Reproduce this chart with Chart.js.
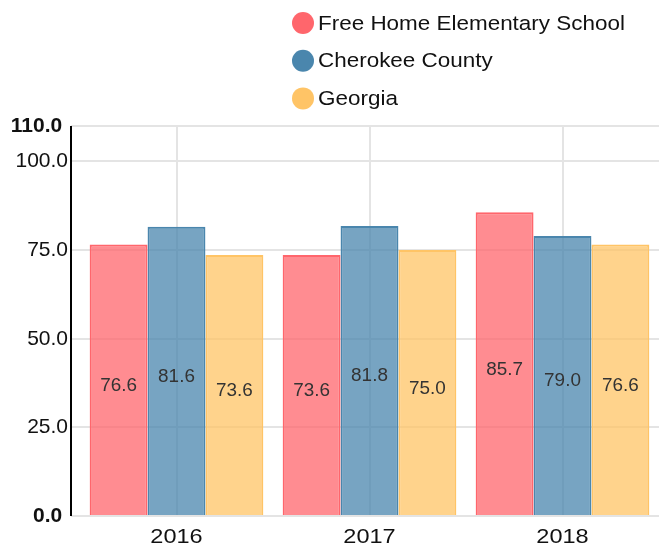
<!DOCTYPE html>
<html>
<head>
<meta charset="utf-8">
<script src="https://cdn.jsdelivr.net/npm/chart.js@4/dist/chart.umd.min.js"></script>
<style>
html,body{margin:0;padding:0;background:#fff;}
#wrap{width:659px;height:545px;position:relative;}
</style>
</head>
<body>
<div id="wrap"><canvas id="c" width="659" height="545"></canvas></div>
<script>
const categories = ["2016", "2017", "2018"];
const seriesNames = ["Free Home Elementary School", "Cherokee County", "Georgia"];
const schoolValues = [76.6, 73.6, 85.7];
const countyValues = [81.6, 81.8, 79.0];
const georgiaValues = [73.6, 75.0, 76.6];
const yTicks = [0, 25, 50, 75, 100, 110];

const baseColors = ["rgb(255,102,108)", "rgb(74,134,173)", "rgb(255,196,102)"];
const fillColors = ["rgba(255,102,108,0.75)", "rgba(74,134,173,0.75)", "rgba(255,196,102,0.75)"];
const FONT = "'Liberation Sans', Arial, Helvetica, sans-serif";
const GRID = "#e4e4e4";

const seriesValues = [schoolValues, countyValues, georgiaValues];

function wideText(ctx, text, x, y, sx) {
  ctx.save();
  ctx.translate(x, y);
  ctx.scale(sx, 1);
  ctx.fillText(text, 0, 0);
  ctx.restore();
}

const legendPlugin = {
  id: 'customLegend',
  afterDraw(chart) {
    const ctx = chart.ctx;
    ctx.save();
    const cx = 303, startY = 23, gap = 37.7, r = 11;
    chart.data.datasets.forEach((ds, i) => {
      const y = startY + i * gap;
      ctx.beginPath();
      ctx.arc(cx, y, r, 0, Math.PI * 2);
      ctx.fillStyle = ds.borderColor;
      ctx.fill();
      ctx.fillStyle = '#111';
      ctx.font = "20.5px " + FONT;
      ctx.textAlign = 'left';
      ctx.textBaseline = 'middle';
      wideText(ctx, ds.label, 318, y + 1, 1.095);
    });
    ctx.restore();
  }
};

const axisLinePlugin = {
  id: 'axisLine',
  afterDatasetsDraw(chart) {
    const ctx = chart.ctx;
    const a = chart.chartArea;
    ctx.save();
    ctx.strokeStyle = '#000';
    ctx.lineWidth = 2;
    ctx.beginPath();
    ctx.moveTo(a.left - 9, a.top);
    ctx.lineTo(a.left - 9, a.bottom);
    ctx.stroke();
    ctx.restore();
  }
};

const xLabelPlugin = {
  id: 'xLabels',
  afterDraw(chart) {
    const ctx = chart.ctx;
    const xs = chart.scales.x;
    ctx.save();
    ctx.font = "21px " + FONT;
    ctx.fillStyle = '#111';
    ctx.textAlign = 'center';
    ctx.textBaseline = 'middle';
    chart.data.labels.forEach((lab, i) => {
      wideText(ctx, lab, xs.getPixelForTick(i), chart.chartArea.bottom + 21, 1.12);
    });
    ctx.restore();
  }
};

const valueLabelPlugin = {
  id: 'valueLabels',
  afterDatasetsDraw(chart) {
    const ctx = chart.ctx;
    ctx.save();
    ctx.font = "18px " + FONT;
    ctx.fillStyle = '#333';
    ctx.textAlign = 'center';
    ctx.textBaseline = 'middle';
    chart.data.datasets.forEach((ds, i) => {
      const meta = chart.getDatasetMeta(i);
      meta.data.forEach((bar, j) => {
        const yc = (bar.y + bar.base) / 2 + 6;
        wideText(ctx, ds.data[j].toFixed(1), bar.x, yc, 1.05);
      });
    });
    ctx.restore();
  }
};

new Chart(document.getElementById('c'), {
  type: 'bar',
  data: {
    labels: categories,
    datasets: seriesNames.map((name, i) => ({
      label: name,
      data: seriesValues[i],
      backgroundColor: fillColors[i],
      borderColor: baseColors[i],
      borderWidth: 2,
      categoryPercentage: 0.9,
      barPercentage: 1.0
    }))
  },
  options: {
    responsive: false,
    animation: false,
    layout: { padding: { top: 126, right: -2, left: 0, bottom: 0 } },
    plugins: {
      legend: { display: false },
      tooltip: { enabled: false }
    },
    scales: {
      x: {
        offset: true,
        grid: { offset: false, color: GRID, lineWidth: 2, drawTicks: false },
        border: { display: false },
        ticks: { display: false },
        afterFit(scale) { scale.height = 29; }
      },
      y: {
        min: 0,
        max: 110,
        afterBuildTicks(scale) { scale.ticks = yTicks.map(v => ({ value: v })); },
        grid: { color: GRID, lineWidth: 2, drawTicks: true, tickLength: 9 },
        border: { display: false },
        ticks: {
          color: '#111',
          padding: 3,
          callback: v => (v === 0 || v === 110) ? Number(v).toFixed(1) + ' ' : Number(v).toFixed(1),
          font: ctx => ({ family: FONT, size: 21, weight: (ctx.tick && (ctx.tick.value === 0 || ctx.tick.value === 110)) ? 'bold' : 'normal' })
        },
        afterFit(scale) { scale.width = 80; }
      }
    }
  },
  plugins: [legendPlugin, axisLinePlugin, xLabelPlugin, valueLabelPlugin]
});
</script>
</body>
</html>
